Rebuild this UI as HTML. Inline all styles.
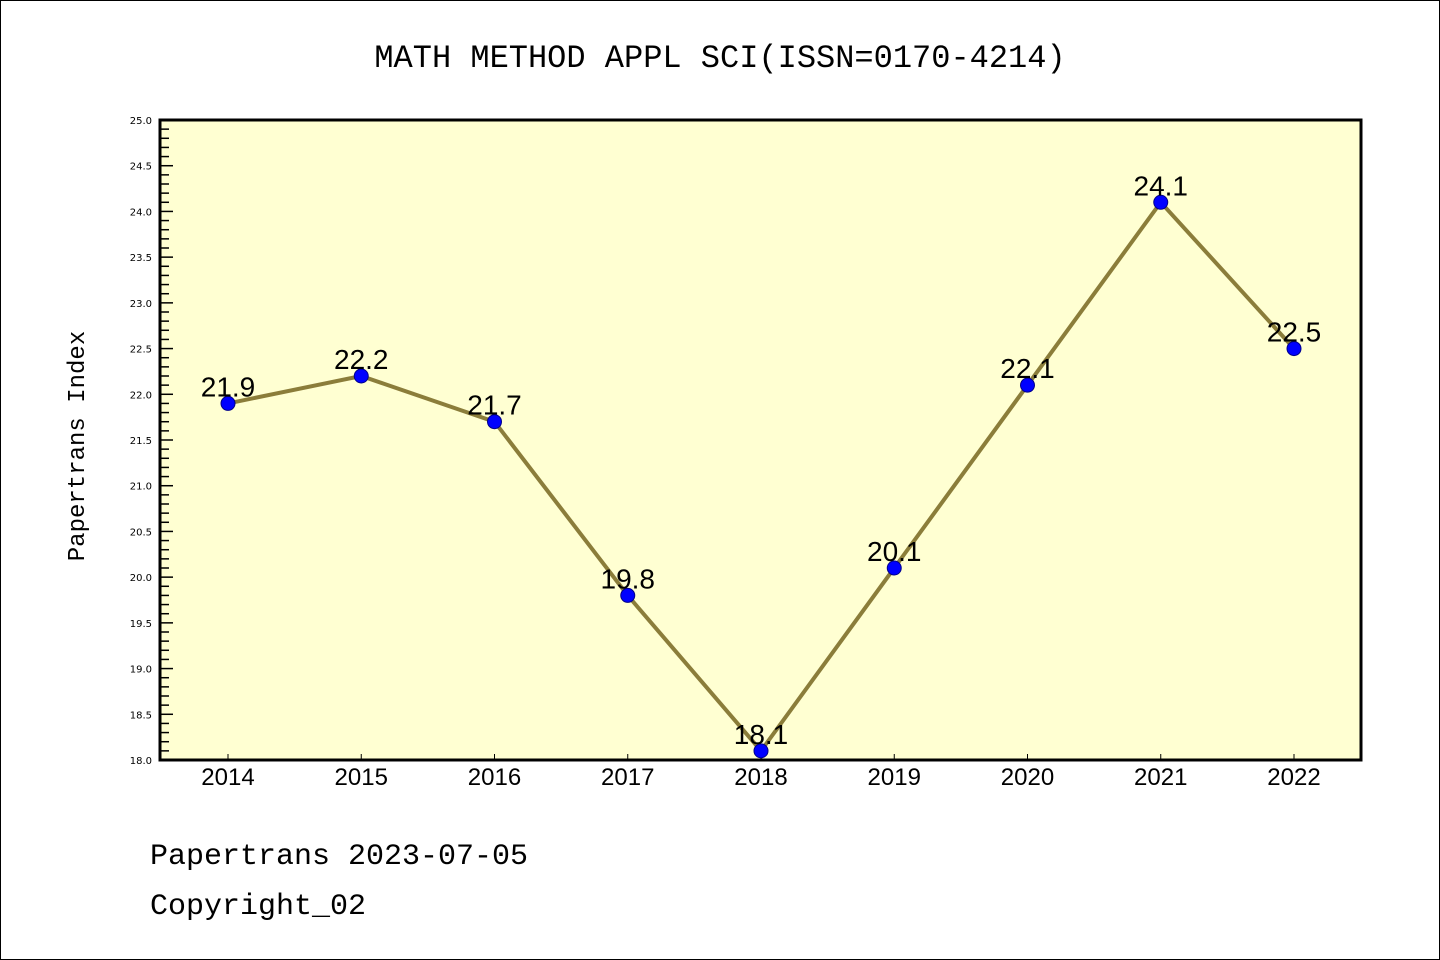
<!DOCTYPE html>
<html><head><meta charset="utf-8"><style>
html,body{margin:0;padding:0;background:#fff}
svg{display:block}
</style></head><body>
<svg id="chart" width="1440" height="960" xmlns="http://www.w3.org/2000/svg">
<rect x="0.5" y="0.5" width="1439" height="959" fill="#fff" stroke="#000" stroke-width="1"/>
<text x="720" y="67" text-anchor="middle" font-family="Liberation Mono, monospace" font-size="32" fill="#000">MATH METHOD APPL SCI(ISSN=0170-4214)</text>
<rect x="160" y="120" width="1201" height="640" fill="#ffffd2"/>
<g id="grid"></g>
<polyline id="series-line" fill="none" stroke="#8b7d3a" stroke-width="4" stroke-linejoin="round"/>
<g id="marks"></g>
<rect x="160" y="120" width="1201" height="640" fill="none" stroke="#000" stroke-width="3"/>
<text transform="translate(84,446) rotate(-90)" text-anchor="middle" font-family="Liberation Mono, monospace" font-size="24" fill="#000">Papertrans Index</text>
<text x="150" y="864" font-family="Liberation Mono, monospace" font-size="30" fill="#000">Papertrans 2023-07-05</text>
<text x="150" y="914" font-family="Liberation Mono, monospace" font-size="30" fill="#000">Copyright_02</text>
</svg>
<script>
const years = ['2014','2015','2016','2017','2018','2019','2020','2021','2022'];
const values = [21.9, 22.2, 21.7, 19.8, 18.1, 20.1, 22.1, 24.1, 22.5];
const valueLabels = ['21.9','22.2','21.7','19.8','18.1','20.1','22.1','24.1','22.5'];
const yMin = 18.0, yMax = 25.0;
const yTickLabels = ['18.0','18.5','19.0','19.5','20.0','20.5','21.0','21.5','22.0','22.5','23.0','23.5','24.0','24.5','25.0'];

const NS='http://www.w3.org/2000/svg';
const svg=document.getElementById('chart');
const grid=document.getElementById('grid');
const marks=document.getElementById('marks');
const x0=160,x1=1361,y0=760,y1=120;
const xFirst=228,xStep=133.25;
function xs(i){return xFirst+i*xStep;}
function ys(v){return y0-(v-yMin)/(yMax-yMin)*(y0-y1);}
function mk(tag,attrs,parent){const e=document.createElementNS(NS,tag);for(const k in attrs)e.setAttribute(k,attrs[k]);(parent||svg).appendChild(e);return e;}

// minor ticks every 0.1
for(let k=0;k<=Math.round((yMax-yMin)*10);k++){
  const v=yMin+k*0.1;const y=ys(v);const major=k%5===0;
  const t=mk('line',{x1:x0,x2:x0+(major?13:9),y1:y,y2:y,stroke:'#000','stroke-width':1.5},grid);
  
  
}
yTickLabels.forEach(function(lab){
  const v=parseFloat(lab);
  const t=mk('text',{x:152,y:ys(v)+4,'text-anchor':'end','font-family':'DejaVu Sans, sans-serif','font-size':10,fill:'#000'},grid);
  t.textContent=lab;
  
  
});
years.forEach(function(yr,i){
  const t=mk('line',{x1:xs(i),x2:xs(i),y1:y0,y2:y0-6,stroke:'#000','stroke-width':1},grid);
  
  
  const l=mk('text',{x:xs(i),y:785,'text-anchor':'middle','font-family':'Liberation Sans, sans-serif','font-size':24,fill:'#000'},grid);
  l.textContent=yr;
  
  
});
document.getElementById('series-line').setAttribute('points',values.map(function(v,i){return xs(i)+','+ys(v);}).join(' '));
values.forEach(function(v,i){
  const c=mk('circle',{cx:xs(i),cy:ys(v),r:7,fill:'#0000ff',stroke:'#00008b','stroke-width':1},marks);
  
  
  const t=mk('text',{x:xs(i),y:ys(v)-7,'text-anchor':'middle','font-family':'Liberation Sans, sans-serif','font-size':28,fill:'#000'},marks);
  t.textContent=valueLabels[i];
  
  
});
</script>
</body></html>
